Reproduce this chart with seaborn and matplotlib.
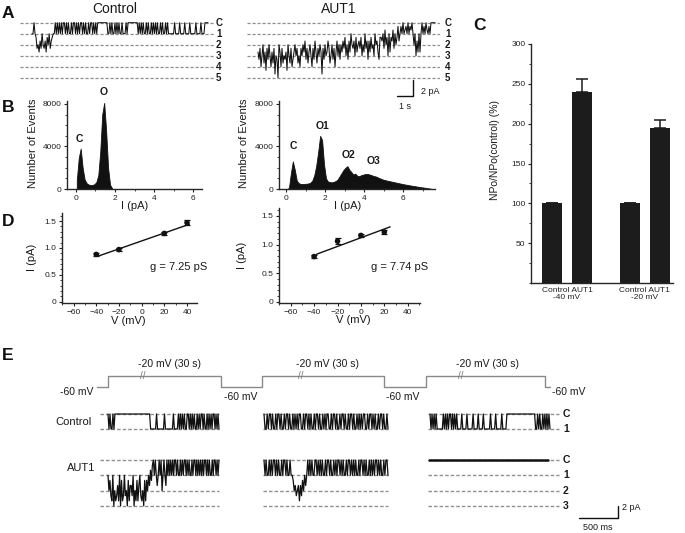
import numpy as np
import pandas as pd
import matplotlib
matplotlib.use("Agg")
import matplotlib.pyplot as plt
import seaborn as sns
from matplotlib.lines import Line2D
from matplotlib.ticker import MultipleLocator

# ---------------- data ----------------
# B: all-points histograms, counts per 0.1 pA bin starting at 0 pA
HIST_BIN = 0.1
HIST_CTRL = [800, 2900, 3800, 2000, 900, 550, 420, 380, 380, 450, 650, 1300,
             3500, 7000, 8100, 5500, 2000, 400, 80]
HIST_AUT1 = [0, 100, 1500, 2600, 1800, 800, 550, 480, 470, 480, 500, 520, 600,
             800, 1300, 2200, 3500, 5000, 4600, 2300, 1000, 700, 650, 620, 680,
             750, 900, 1200, 1500, 1800, 2000, 2150, 1800, 1600, 1350, 1450,
             1250, 1200, 1300, 1350, 1400, 1420, 1380, 1330, 1250, 1200, 1150,
             1050, 980, 900, 850, 800, 760, 720, 680, 640, 600, 560, 520, 480,
             440, 410, 380, 340, 310, 280, 250, 220, 190, 160, 140, 110, 80, 50, 20]
PEAKS_CTRL = [("C", 0.17, 4700), ("O", 1.44, 9150)]
PEAKS_AUT1 = [("C", 0.37, 4050), ("O1", 1.88, 5930), ("O2", 3.19, 3200), ("O3", 4.51, 2660)]

# D: I-V relations
IV_CTRL_V = [-40, -20, 20, 40]
IV_CTRL_I = [0.88, 0.97, 1.27, 1.47]
IV_CTRL_ERR = [0.03, 0.02, 0.02, 0.05]
IV_CTRL_FIT_V = [-38, 42]
IV_CTRL_FIT_I = [0.85, 1.44]
IV_AUT1_V = [-40, -20, 0, 20]
IV_AUT1_I = [0.79, 1.06, 1.16, 1.22]
IV_AUT1_ERR = [0.03, 0.05, 0.02, 0.04]
IV_AUT1_FIT_V = [-38, 25]
IV_AUT1_FIT_I = [0.83, 1.31]
G_CTRL = "g = 7.25 pS"
G_AUT1 = "g = 7.74 pS"

# C: NPo normalised to control
NPO_POS = [0, 1, 2.6, 3.6]
NPO_VALUES = [100, 240, 100, 195]
NPO_ERR = [0, 16, 0, 10]
NPO_TICKS = ["Control AUT1\n-40 mV", "Control AUT1\n-20 mV"]

# single channel traces, hex digit = depth below closed level in thirds of a level
TRACE_A_CTRL = ("3303" "4768573675846375" "43303"
                "030303003030330300303030030303303003030300" "00000000"
                "33030330303033033303" "0000000000"
                "30303033030330303030330303303033"
                "333303333033330333303333303333033" "30000")
TRACE_A_AUT1 = ("8a7c96b8d7a69c8b7e9af68c7b9a8d69b7ca8697b9c"
                "79685a7b869c7a58b7968e7a69857b96a7c8596a"
                "6857496a5836759486574968375a5847693658a4"
                "45372649384527364153" "1303213031203" "6395838" "303130231300000")
TRACE_E_CTRL = [
    "03033030" "00000000000000000000000000000000000" "333333033333330333333330333303"
    "0303033003030303303030030330303030030303",
    "0330300303303003033030030330303030033030030303303003033030300330300303303"
    "00303303003033030303003303003030330300303303",
    "0303030" "333333" "03030300303030" "333303333033333033330333303333330333303333303333"
    "000000000000000000000000000" "0330303303030303",
]
TRACE_E_AUT1 = [
    "3647839687583948737694855739684853786948" "4635241" "0303530306303503"
    "03030300303303030030303303003030303030030303303003030",
    "030330303003030330300303303" "346576585746353"
    "030303300303030330300303303030030303303003030303303003030330303030030303303003",
    "00000000000000000000" "00000000000000000000" "00000000000000000000"
    "00000000000000000000" "00000000000000000000" "000000000000000000",
]
LEVELS_A = ["C", "1", "2", "3", "4", "5"]
LEVELS_E_CTRL = ["C", "1"]
LEVELS_E_AUT1 = ["C", "1", "2", "3"]

# E: voltage protocol (mV), step-post
PROTO_V = [-60, -20, -60, -20, -60, -20, -60, -60]
PROTO_LABEL = "-20 mV (30 s)"

# ---------------- layout ----------------
W, H = 685, 533
TXT = "#1a1a1a"
DASH = "#8f8f8f"
INK = "#111111"
sns.set_style("ticks")
plt.rcParams['font.family'] = ['Liberation Sans', 'DejaVu Sans']
plt.rcParams.update({"axes.linewidth": 1.0, "xtick.labelsize": 6, "ytick.labelsize": 6,
                     "xtick.major.size": 2.5, "ytick.major.size": 2.5,
                     "xtick.minor.size": 1.5, "ytick.minor.size": 1.5,
                     "xtick.major.pad": 1.5, "ytick.major.pad": 1.5,
                     "xtick.color": "#222222", "ytick.color": "#222222"})

fig = plt.figure(figsize=(W / 100, H / 100), dpi=100)


def px_axes(x0, y0, x1, y1):
    return fig.add_axes([x0 / W, 1 - y1 / H, (x1 - x0) / W, (y1 - y0) / H])


def ftext(x, y, s, **kw):
    kw.setdefault("ha", "center")
    kw.setdefault("va", "center")
    kw.setdefault("color", TXT)
    fig.text(x / W, 1 - y / H, s, **kw)


def fline(xs, ys, **kw):
    fig.add_artist(Line2D([x / W for x in xs], [1 - y / H for y in ys], **kw))


def decode(s):
    return -np.array([int(c, 16) for c in s]) / 3.0


def level_ylim(top, bot, c_px, step):
    return (-(bot - c_px) / step, (c_px - top) / step)


# ---- panel A: traces ----
def trace_panel(rect, c_px, trace, t_px, label_x):
    x0, y0, x1, y1 = rect
    ax = px_axes(*rect)
    ax.set_axis_off()
    ax.set_xlim(0, (x1 - x0) / 16)
    ax.set_ylim(*level_ylim(y0, y1, c_px, 11))
    for i, lab in enumerate(LEVELS_A):
        ax.axhline(-i, color=DASH, lw=0.9, ls=(0, (2.5, 1.5)))
        ftext(label_x, c_px + 11 * i, lab, ha="left", fontsize=7, fontweight="bold")
    y = decode(trace)
    t = np.linspace((t_px[0] - x0) / 16, (t_px[1] - x0) / 16, len(y))
    sns.lineplot(x=t, y=y, ax=ax, color=INK, lw=0.75, estimator=None, sort=False)
    return ax


trace_panel((20, 15, 214, 85), 22.7, TRACE_A_CTRL, (32, 208), 216)
trace_panel((247, 15, 440, 85), 22.7, TRACE_A_AUT1, (258, 435), 445)
ftext(115, 9, "Control", fontsize=10)
ftext(339, 9, "AUT1", fontsize=10)
fline([397, 413, 413], [96, 96, 80], color=INK, lw=1.0)
ftext(421, 91, "2 pA", ha="left", fontsize=6.5)
ftext(405, 106, "1 s", fontsize=6.5)


# ---- panel B: histograms ----
def hist_panel(rect, counts, xlim, peaks):
    ax = px_axes(*rect)
    n_bins = len(counts)
    df = pd.DataFrame({"I": HIST_BIN * (np.arange(n_bins) + 0.5), "n": counts})
    sns.histplot(data=df, x="I", weights="n", bins=n_bins,
                 binrange=(0, HIST_BIN * n_bins), element="poly", fill=True,
                 color=INK, alpha=1, linewidth=0.6, ax=ax)
    ax.set_xlim(*xlim)
    ax.set_ylim(0, 8280)
    ax.set_xticks([0, 2, 4, 6])
    ax.xaxis.set_minor_locator(MultipleLocator(1))
    ax.set_yticks([0, 4000, 8000])
    ax.yaxis.set_minor_locator(MultipleLocator(1000))
    ax.set_xlabel("")
    ax.set_ylabel("")
    sns.despine(ax=ax)
    for lab, x, y in peaks:
        ax.text(x, y, lab, ha="center", va="center", fontsize=7.5, fontweight="bold",
                color=TXT, clip_on=False)
    return ax


hist_panel((67, 101, 202, 189), HIST_CTRL, (-0.45, 6.45), PEAKS_CTRL)
hist_panel((279, 101, 435, 189), HIST_AUT1, (-0.36, 7.64), PEAKS_AUT1)
for x in (33, 244):
    ftext(x, 143, "Number of Events", rotation=90, fontsize=8)
ftext(135, 206, "I (pA)", fontsize=8)
ftext(348, 206, "I (pA)", fontsize=8)


# ---- panel D: I-V ----
def iv_panel(rect, ylim, xlim, v, i, err, fv, fi, gtxt, gpos):
    ax = px_axes(*rect)
    sns.lineplot(x=fv, y=fi, ax=ax, color=INK, lw=1.0)
    ax.errorbar(v, i, yerr=err, fmt="none", ecolor=INK, elinewidth=0.9,
                capsize=2.5, capthick=0.9)
    sns.scatterplot(x=v, y=i, ax=ax, color=INK, s=16, edgecolor="none", zorder=3)
    ax.set_xlim(*xlim)
    ax.set_ylim(*ylim)
    ax.set_xticks([-60, -40, -20, 0, 20, 40])
    ax.xaxis.set_minor_locator(MultipleLocator(10))
    ax.set_yticks([0, 0.5, 1.0, 1.5])
    ax.set_yticklabels(["0", "0.5", "1.0", "1.5"])
    ax.yaxis.set_minor_locator(MultipleLocator(0.1))
    ax.set_xlabel("")
    ax.set_ylabel("")
    sns.despine(ax=ax)
    ftext(*gpos, gtxt, fontsize=8)


iv_panel((62, 213, 197, 303), (-0.024, 1.65), (-70.2, 48.8), IV_CTRL_V, IV_CTRL_I,
         IV_CTRL_ERR, IV_CTRL_FIT_V, IV_CTRL_FIT_I, G_CTRL, (179, 267))
iv_panel((279, 208, 420, 303), (-0.023, 1.64), (-70, 50.5), IV_AUT1_V, IV_AUT1_I,
         IV_AUT1_ERR, IV_AUT1_FIT_V, IV_AUT1_FIT_I, G_AUT1, (400, 267))
ftext(32, 257, "I (pA)", rotation=90, fontsize=8)
ftext(242, 255, "I (pA)", rotation=90, fontsize=8)
ftext(128, 321, "V (mV)", fontsize=8)
ftext(353, 320, "V (mV)", fontsize=8)

# ---- panel C: NPo bars ----
axC = px_axes(531, 44, 673, 283)
axC.bar(NPO_POS, NPO_VALUES, width=0.67, color="#1c1c1c", edgecolor="none")
axC.errorbar(NPO_POS, NPO_VALUES, yerr=[[0] * len(NPO_ERR), NPO_ERR], fmt="none",
             ecolor="#1c1c1c", elinewidth=1.1, capsize=4.5, capthick=1.1)
axC.set_xlim(-0.7, 4.04)
axC.set_ylim(0, 300)
axC.set_yticks([50, 100, 150, 200, 250, 300])
axC.yaxis.set_minor_locator(MultipleLocator(25))
axC.set_xticks([(NPO_POS[0] + NPO_POS[1]) / 2, (NPO_POS[2] + NPO_POS[3]) / 2])
axC.set_xticklabels(NPO_TICKS, fontsize=6, linespacing=0.95)
axC.tick_params(axis="x", length=0, pad=3)
sns.despine(ax=axC)
ftext(495, 150, "NPo/NPo(control) (%)", rotation=90, fontsize=7.5)

# ---- panel E: protocol + traces ----
E_MS = 13.0  # ms per pixel
E_X0, E_X1 = 95, 575


def ms(px):
    return (px - E_X0) * E_MS


HI_PX, LO_PX = 376, 387
axP = px_axes(E_X0, 360, E_X1, 400)
axP.set_axis_off()
axP.set_xlim(0, ms(E_X1))
mv_px = (LO_PX - HI_PX) / 40
axP.set_ylim(-60 - (400 - LO_PX) / mv_px, -20 + (HI_PX - 360) / mv_px)
proto_t = [ms(p) for p in (97, 108, 221, 262, 384, 426, 545, 550)]
axP.plot(proto_t, PROTO_V, color="#8a8a8a", lw=1.0, drawstyle="steps-post")
for cx, bx in ((169, 143), (328, 301), (487, 461)):
    ftext(cx, 364, PROTO_LABEL, fontsize=7.5)
    ftext(bx, 376, "//", fontsize=7, color="#777777")
ftext(93, 392, "-60 mV", ha="right", fontsize=7.5)
ftext(241, 397, "-60 mV", fontsize=7.5)
ftext(403, 397, "-60 mV", fontsize=7.5)
ftext(552, 392, "-60 mV", ha="left", fontsize=7.5)

E_DASH = [(100, 219), (263, 388), (428, 559)]
E_CTRL_WIN = [(108, 219), (264, 388), (430, 550)]
E_AUT1_WIN = [(108, 219), (264, 388), (429, 548)]


def e_row(top, bot, c_px, step, levels, traces, wins, lw3):
    ax = px_axes(E_X0, top, E_X1, bot)
    ax.set_axis_off()
    ax.set_xlim(0, ms(E_X1))
    ax.set_ylim(*level_ylim(top, bot, c_px, step))
    for i, lab in enumerate(levels):
        for a, b in E_DASH:
            ax.hlines(-i, ms(a), ms(b), color=DASH, lw=1.0, ls=(0, (2.5, 1.5)))
        ftext(563, c_px + step * i, lab, ha="left", fontsize=7.5, fontweight="bold")
    for k, (s, (a, b)) in enumerate(zip(traces, wins)):
        y = decode(s)
        t = np.linspace(ms(a), ms(b), len(y))
        sns.lineplot(x=t, y=y, ax=ax, color=INK, lw=lw3 if k == 2 else 0.9,
                     estimator=None, sort=False)
    return ax


e_row(405, 438, 414, 15, LEVELS_E_CTRL, TRACE_E_CTRL, E_CTRL_WIN, 0.9)
e_row(450, 515, 460, 15.3, LEVELS_E_AUT1, TRACE_E_AUT1, E_AUT1_WIN, 1.8)
ftext(92, 422, "Control", ha="right", fontsize=8)
ftext(95, 468, "AUT1", ha="right", fontsize=8)
fline([579, 618, 618], [518, 518, 506], color=INK, lw=1.0)
ftext(622, 508, "2 pA", ha="left", fontsize=6.5)
ftext(598, 528, "500 ms", fontsize=6.5)

# panel letters
for lab, x, y in (("A", 8, 13), ("B", 8, 107), ("C", 480, 25), ("D", 8, 222), ("E", 8, 355)):
    ftext(x, y, lab, fontsize=12.5, fontweight="bold", color=INK)

fig.savefig("out.png", dpi=100)
